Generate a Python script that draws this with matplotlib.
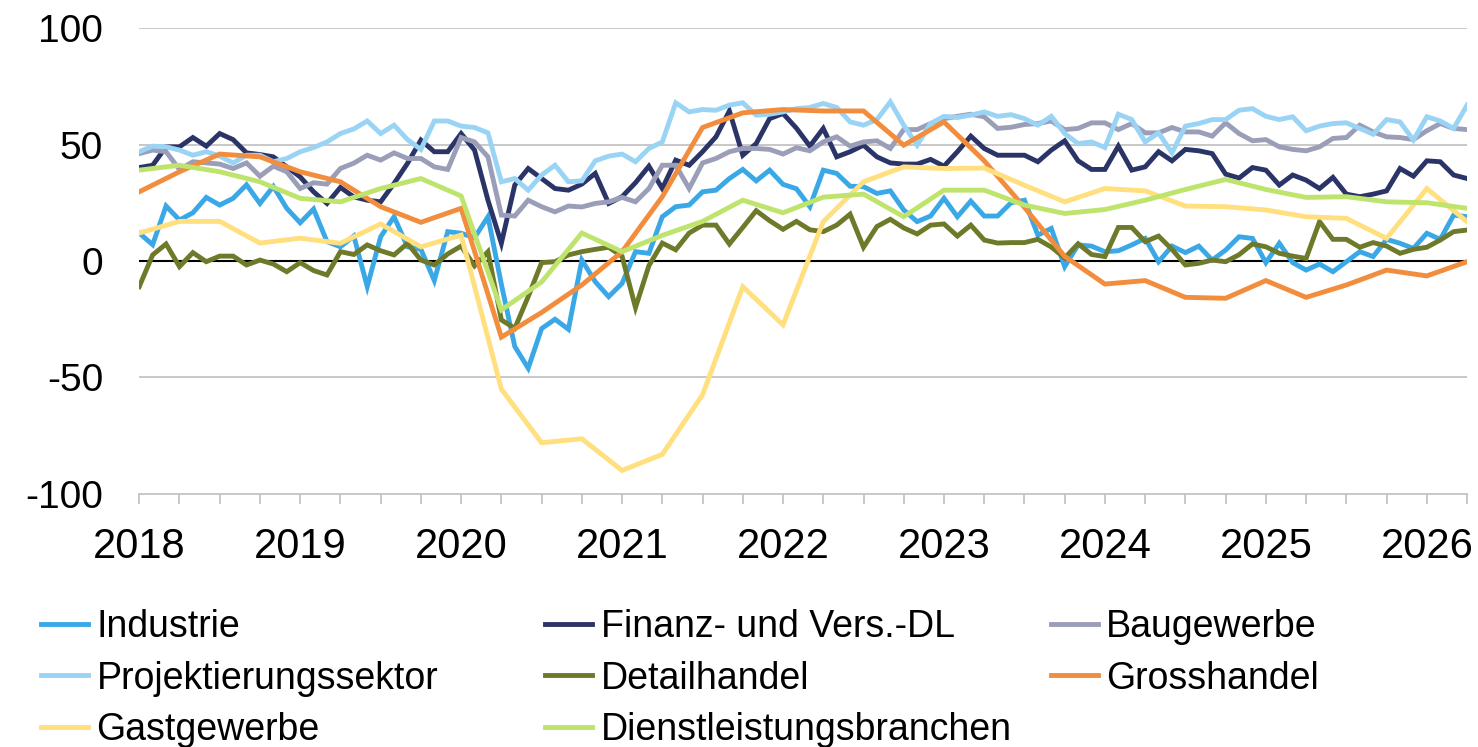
import numpy as np
import matplotlib
matplotlib.use("Agg")
import matplotlib.pyplot as plt
from matplotlib.lines import Line2D

plt.rcParams['font.family'] = ['Liberation Sans', 'DejaVu Sans']

# monthly index 0 = Jan 2018 ... 99 = Apr 2026
industrie = [12, 7, 23.6, 17.6, 20.7, 27.3, 24, 26.9, 32.7, 24.7, 32, 22.6, 16.4, 22.3, 8.3, 6.1, 10.7,
             -11, 10.4, 19, 6.1, 5, -8.4, 12.6, 11.9, 10, 19, -10, -36.7, -46, -29, -25, -29.3,
             0.4, -8.9, -15.3, -9.6, 4, 3.3, 19, 23.3, 24, 29.7, 30.4, 35.4, 39.3, 34.4, 39, 32.9,
             31, 23.3, 39, 37.6, 32.1, 31.9, 29, 30.1, 21.9, 16.9, 19.3, 26.9, 19, 25.7, 19.3, 19.3,
             25, 26.1, 11.1, 14, -2.4, 6.9, 6.4, 4, 4.4, 6.9, 9.7, -0.3, 6.4, 3.6, 6.4, 0.4, 4.7,
             10.4, 9.7, -0.7, 7.6, -0.7, -3.9, -1.3, -4.6, -0.3, 4, 1.9, 9.3, 7.6, 5.4, 11.9, 9.3,
             19.7, 19]
finanz = [40.1, 41.1, 49, 49, 53, 49.3, 54.7, 52.1, 46.4, 45.7, 44.7, 40.4, 36.1, 29.7, 24.7, 31.6, 27.5,
          26.1, 25.4, 33.3, 41.9, 51.9, 46.9, 46.9, 54.7, 47.6, 26.1, 7.6, 32.6, 39.7, 35.4, 31.1, 30.4,
          33, 37.6, 24.7, 27.6, 33.6, 40.7, 31.1, 43.3, 41.1, 46.9, 53.3, 64.4, 45.4, 50.4, 61.1, 63.3,
          57, 49.3, 56.9, 44.7, 46.9, 49.7, 44.7, 42.1, 41.6, 41.6, 43.6, 40.7, 46.9, 53.6, 48.3, 45.4,
          45.4, 45.4, 42.6, 47.6, 51.6, 43, 39.3, 39.3, 49.3, 39, 40.4, 46.9, 43, 47.9, 47.3, 46.1, 37.3,
          35.6, 40.1, 39, 32.6, 36.9, 34.7, 31.1, 35.9, 28.7, 27.6, 28.7, 30.1, 39.7, 36.4, 43, 42.6,
          36.9, 35.4]
baugewerbe = [46.1, 47.6, 46.9, 39.3, 42.6, 42.1, 41.6, 39.7, 42.1, 36.4, 40.7, 38.3, 31.1, 33.6, 33, 39.7,
              42, 45.4, 43.3, 46.4, 44, 44, 40.4, 39.3, 53, 51.1, 44.7, 19.7, 19.3, 26.1, 23.3, 21.1, 23.6,
              23.2, 24.7, 25.4, 27.3, 25.4, 31.1, 41.1, 41.1, 31.1, 42.1, 44, 46.9, 48.3, 48.3, 47.9, 45.9,
              48.6, 47.3, 51.1, 53.3, 49.3, 51.1, 51.6, 48.3, 56.4, 56.4, 59, 61.1, 62.1, 63, 61.9, 56.9,
              57.4, 58.6, 59, 60.1, 56.4, 56.9, 59.3, 59.3, 56.4, 59, 55, 55, 57.3, 55.4, 55.4, 53.6, 59.3,
              54.7, 51.6, 52.1, 49, 47.9, 47.3, 49, 52.6, 53, 58.3, 55.4, 53.3, 53, 52.1, 55.9, 59,
              56.9, 56.4]
projektierung = [46.9, 49.3, 49, 47.6, 45.4, 46.9, 45, 42.1, 45.4, 45.4, 42.6, 44, 46.9, 48.7, 51.1, 54.7,
                 56.7, 60.1, 54.7, 58.3, 52.1, 47.9, 60.1, 60.1, 57.9, 57.3, 55, 34, 35.4, 30.4, 36.9, 41.1,
                 34, 34.4, 43, 45, 45.9, 42.6, 48.3, 51.1, 67.9, 64, 65, 64.7, 66.9, 67.9, 62.6, 63, 64,
                 65.4, 65.9, 67.6, 65.9, 59.7, 58.3, 60.7, 68.3, 58.3, 49.7, 59, 62.1, 61.6, 62.6, 64, 62.1,
                 62.8, 61.1, 58.3, 62.1, 54.7, 50.4, 51.1, 48.7, 63, 60.7, 51.1, 55, 46.4, 57.9, 59, 60.7,
                 60.7, 64.7, 65.4, 62.1, 60.7, 61.9, 55.9, 57.9, 59, 59.3, 56.9, 54.4, 60.7, 59.7, 51.9,
                 61.9, 60.1, 56.9, 66.9]
detailhandel = [-11, 2.6, 7.3, -2.4, 3.6, -0.3, 2.1, 2.1, -1.7, 0.4, -1.3, -4.6, -0.7, -4.1, -6, 4, 2.8,
                6.9, 4.4, 2.6, 7.6, 0.4, -1.7, 3, 6.4, -2.1, 4, -25.3, -28.9, -15.3, -0.7, -0.3, 2.6,
                4, 5, 5.9, 2, -20, -2, 7.7, 4.8, 12, 15.4, 15.4, 7.3, 14.4, 21.6, 17.3, 13.6,
                17, 13.4, 12.6, 15.4, 20.1, 5.9, 14.8, 17.9, 14.2, 11.6, 15.4, 15.9, 10.7, 15.4, 9, 7.7,
                7.9, 7.9, 9.3, 6, 1.3, 7.4, 2.8, 1.9, 14.4, 14.4, 8.3, 10.7, 5, -1.7, -1, 0.4, -0.3,
                2.7, 7.3, 6.1, 3.3, 2.1, 1.1, 16.9, 9.3, 9.3, 5.9, 7.9, 6.4, 3.3, 5, 5.9, 9,
                12.6, 13.3]

# quarterly index 0 = Q1 2018 ... 33 = Q2 2026
grosshandel = [29.7, 38.3, 45.9, 44.7, 38.3, 34, 23.3, 16.6, 22.6, -32.7, -22.1, -10.3, 4, 27.6, 57.3,
               63.6, 65, 64.4, 64.4, 49.7, 59.7, 43, 23, 2, -9.9, -8.4, -15.6, -16, -8.4, -15.6, -10.3,
               -3.9, -6.4, -0.3]
gastgewerbe = [12, 17, 17, 7.7, 9.8, 7.6, 15.9, 6.1, 11.1, -55, -78, -76.3, -89.9, -83, -57.4, -11, -27.4,
               16.9, 34, 40.4, 39.7, 39.9, 32.5, 25.4, 31.1, 30.1, 23.6, 23.3, 21.9, 19, 18.3, 9.7, 31.1,
               16.9]
dienstleistung = [39, 41.1, 38.3, 34, 26.9, 25.4, 31.1, 35.4, 27.9, -21, -9, 12, 4, 11, 17, 26.1, 20.7,
                  27.4, 28.7, 19, 30.4, 30.4, 24, 20.4, 22.1, 26.1, 30.7, 35, 30.7, 27.3, 27.6, 25.4, 25,
                  22.6]

years = ['2018', '2019', '2020', '2021', '2022', '2023', '2024', '2025', '2026']

months = np.arange(len(industrie))
quarters = np.arange(len(grosshandel)) * 3

series = [
    ('Industrie', months, industrie, '#3AA8E6'),
    ('Finanz- und Vers.-DL', months, finanz, '#2B3467'),
    ('Baugewerbe', months, baugewerbe, '#9A9EB8'),
    ('Projektierungssektor', months, projektierung, '#9AD4F5'),
    ('Detailhandel', months, detailhandel, '#6E7A2A'),
    ('Grosshandel', quarters, grosshandel, '#F18D3C'),
    ('Gastgewerbe', quarters, gastgewerbe, '#FFDF7E'),
    ('Dienstleistungsbranchen', quarters, dienstleistung, '#BEE46E'),
]

fig = plt.figure(figsize=(14.78, 7.47), dpi=100)
ax = fig.add_axes([0.0942, 0.3387, 0.8984, 0.6238])

grid_c = '#BFBFBF'
for yv in [100, 50, -50]:
    ax.axhline(yv, color=grid_c, lw=1.2, zorder=0)
ax.axhline(0, color='black', lw=1.5, zorder=1)

handles = {}
for name, x, y, c in series:
    ax.plot(x, y, color=c, lw=3.5, solid_joinstyle='miter', zorder=2)
    handles[name] = Line2D([], [], color=c, lw=3.5)

ax.set_xlim(0, 99)
ax.set_ylim(-100, 100)
ax.set_yticks([-100, -50, 0, 50, 100])
ax.set_yticklabels(['-100', '-50', '0', '50', '100'])
ax.set_xticks(np.arange(0, 97, 12))
ax.set_xticklabels(years)
ax.set_xticks(np.arange(0, 100, 3), minor=True)

for s in ['top', 'right', 'left']:
    ax.spines[s].set_visible(False)
ax.spines['bottom'].set_color(grid_c)
ax.spines['bottom'].set_linewidth(1.2)

ax.tick_params(axis='y', length=0, pad=26, labelsize=28)
ax.tick_params(axis='x', which='both', length=7, width=1.2, color=grid_c, direction='out')
ax.tick_params(axis='x', which='major', pad=17, labelsize=30)

# legend laid out in three columns like the original
cols = [
    (['Industrie', 'Projektierungssektor', 'Gastgewerbe'], 0.028),
    (['Finanz- und Vers.-DL', 'Detailhandel', 'Dienstleistungsbranchen'], 0.369),
    (['Baugewerbe', 'Grosshandel'], 0.711),
]
for names, xpos in cols:
    fig.legend([handles[n] for n in names], names, loc='upper left',
               bbox_to_anchor=(xpos, 0.185), frameon=False, fontsize=27,
               handlelength=1.25, handletextpad=0.22, labelspacing=0.42,
               borderaxespad=0, borderpad=0)

fig.savefig('out.png', dpi=100)
